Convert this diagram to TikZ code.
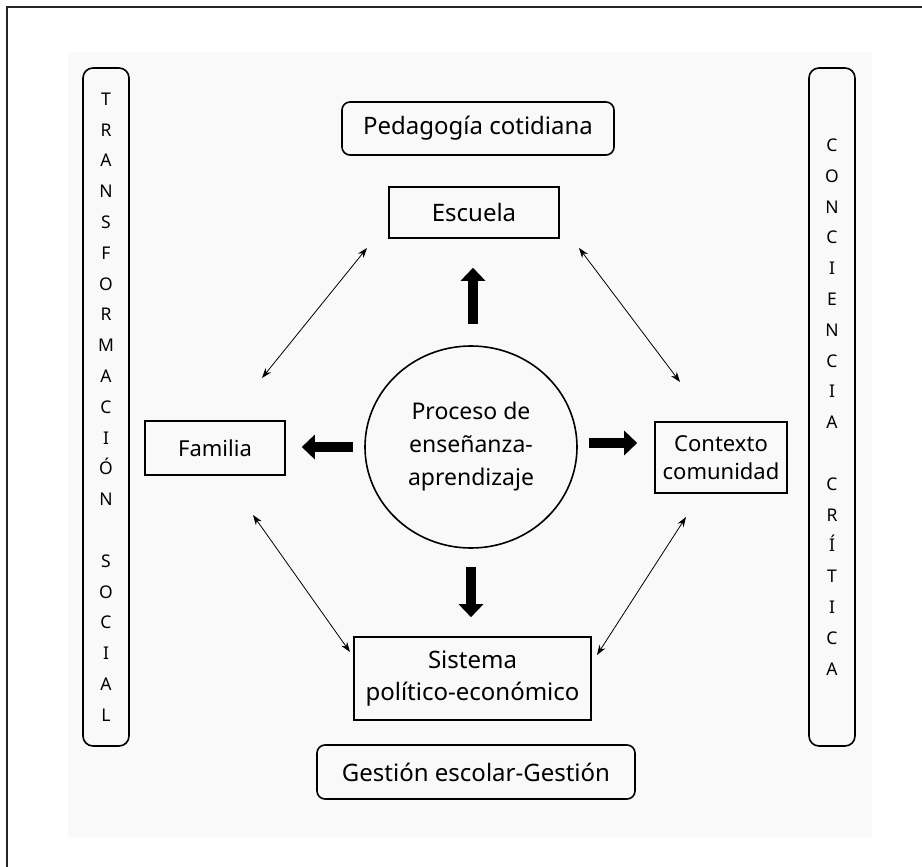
\documentclass[tikz,border=0pt]{standalone}
\usepackage{fontspec}
\setmainfont{Noto Sans}
\usetikzlibrary{arrows.meta}
\tikzset{
  box/.style={draw=black, line width=1.6pt, inner sep=0pt, align=center, text=black},
  rbox/.style={box, rounded corners=8pt},
  vbox/.style={rbox, rounded corners=10pt, minimum width=46pt, minimum height=678pt,
     font=\fontsize{17.5}{30.8}\selectfont},
  bigarrow/.style={line width=10.5pt, -{Triangle[length=13pt,width=24pt]}},
  duo/.style={line width=0.8pt, {Stealth[length=10pt,width=7pt]}-{Stealth[length=10pt,width=7pt]}},
}
\begin{document}
\begin{tikzpicture}[x=1pt,y=-1pt]
\useasboundingbox (0,0) rectangle (922,867);
\fill[white] (0,0) rectangle (922,867);
\fill[black!2.5] (68,52) rectangle (872,837);
\draw[line width=2.5pt, black!85] (7,880) -- (7,7) -- (935,7);

% side bars
\node[vbox] (left) at (106,407) {T\\R\\A\\N\\S\\F\\O\\R\\M\\A\\C\\I\\Ó\\N\\\mbox{}\\S\\O\\C\\I\\A\\L};
\node[vbox] (right) at (832,407) {C\\O\\N\\C\\I\\E\\N\\C\\I\\A\\\mbox{}\\C\\R\\Í\\T\\I\\C\\A};

% boxes
\node[rbox, minimum width=272pt, minimum height=53pt, font=\fontsize{24}{30}\selectfont] (ped) at (478,128.5) {Pedagogía cotidiana};
\node[box, minimum width=170pt, minimum height=51pt, font=\fontsize{24}{30}\selectfont] (esc) at (474,212.5) {Escuela};
\node[box, minimum width=140pt, minimum height=54pt, font=\fontsize{22}{28}\selectfont] (fam) at (215,448) {Familia};
\node[box, minimum width=132pt, minimum height=71pt, font=\fontsize{22}{28}\selectfont] (ctx) at (721,457.5) {Contexto\\comunidad};
\node[box, minimum width=237pt, minimum height=83pt, font=\fontsize{24}{32}\selectfont] (sis) at (472.5,678.5) {Sistema\\político-económico};
\node[rbox, minimum width=318pt, minimum height=54pt, font=\fontsize{24}{30}\selectfont] (ges) at (476,772) {Gestión escolar-Gestión};
\draw[line width=1.6pt] (471,447) ellipse [x radius=106pt, y radius=101pt];
\node[inner sep=0pt, minimum width=212pt, minimum height=202pt, align=center, font=\fontsize{23}{33}\selectfont] (circ) at (471,447) {Proceso de\\enseñanza-\\aprendizaje};

% thick arrows
\draw[bigarrow, shorten <=22pt, shorten >=29pt] ([xshift=2pt]circ.north) -- ([xshift=2pt]circ.north |- esc.south);
\draw[bigarrow, shorten <=12pt, shorten >=16pt] (circ.west) -- (circ.west -| fam.east);
\draw[bigarrow, shorten <=12pt, shorten >=17pt] ([yshift=4pt]circ.east) -- ([yshift=4pt]circ.east -| ctx.west);
\draw[bigarrow, shorten <=19pt, shorten >=19pt] (circ.south) -- (circ.south |- sis.north);

% thin double arrows
\coordinate (a1) at (262,378);
\coordinate (a2) at (367,248);
\coordinate (b1) at (579,248);
\coordinate (b2) at (680,382);
\coordinate (c1) at (253,515);
\coordinate (c2) at (350,652);
\coordinate (d1) at (686,517);
\coordinate (d2) at (597,655);
\draw[duo] (a1) -- (a2);
\draw[duo] (b1) -- (b2);
\draw[duo] (c1) -- (c2);
\draw[duo] (d1) -- (d2);
\end{tikzpicture}
\end{document}
